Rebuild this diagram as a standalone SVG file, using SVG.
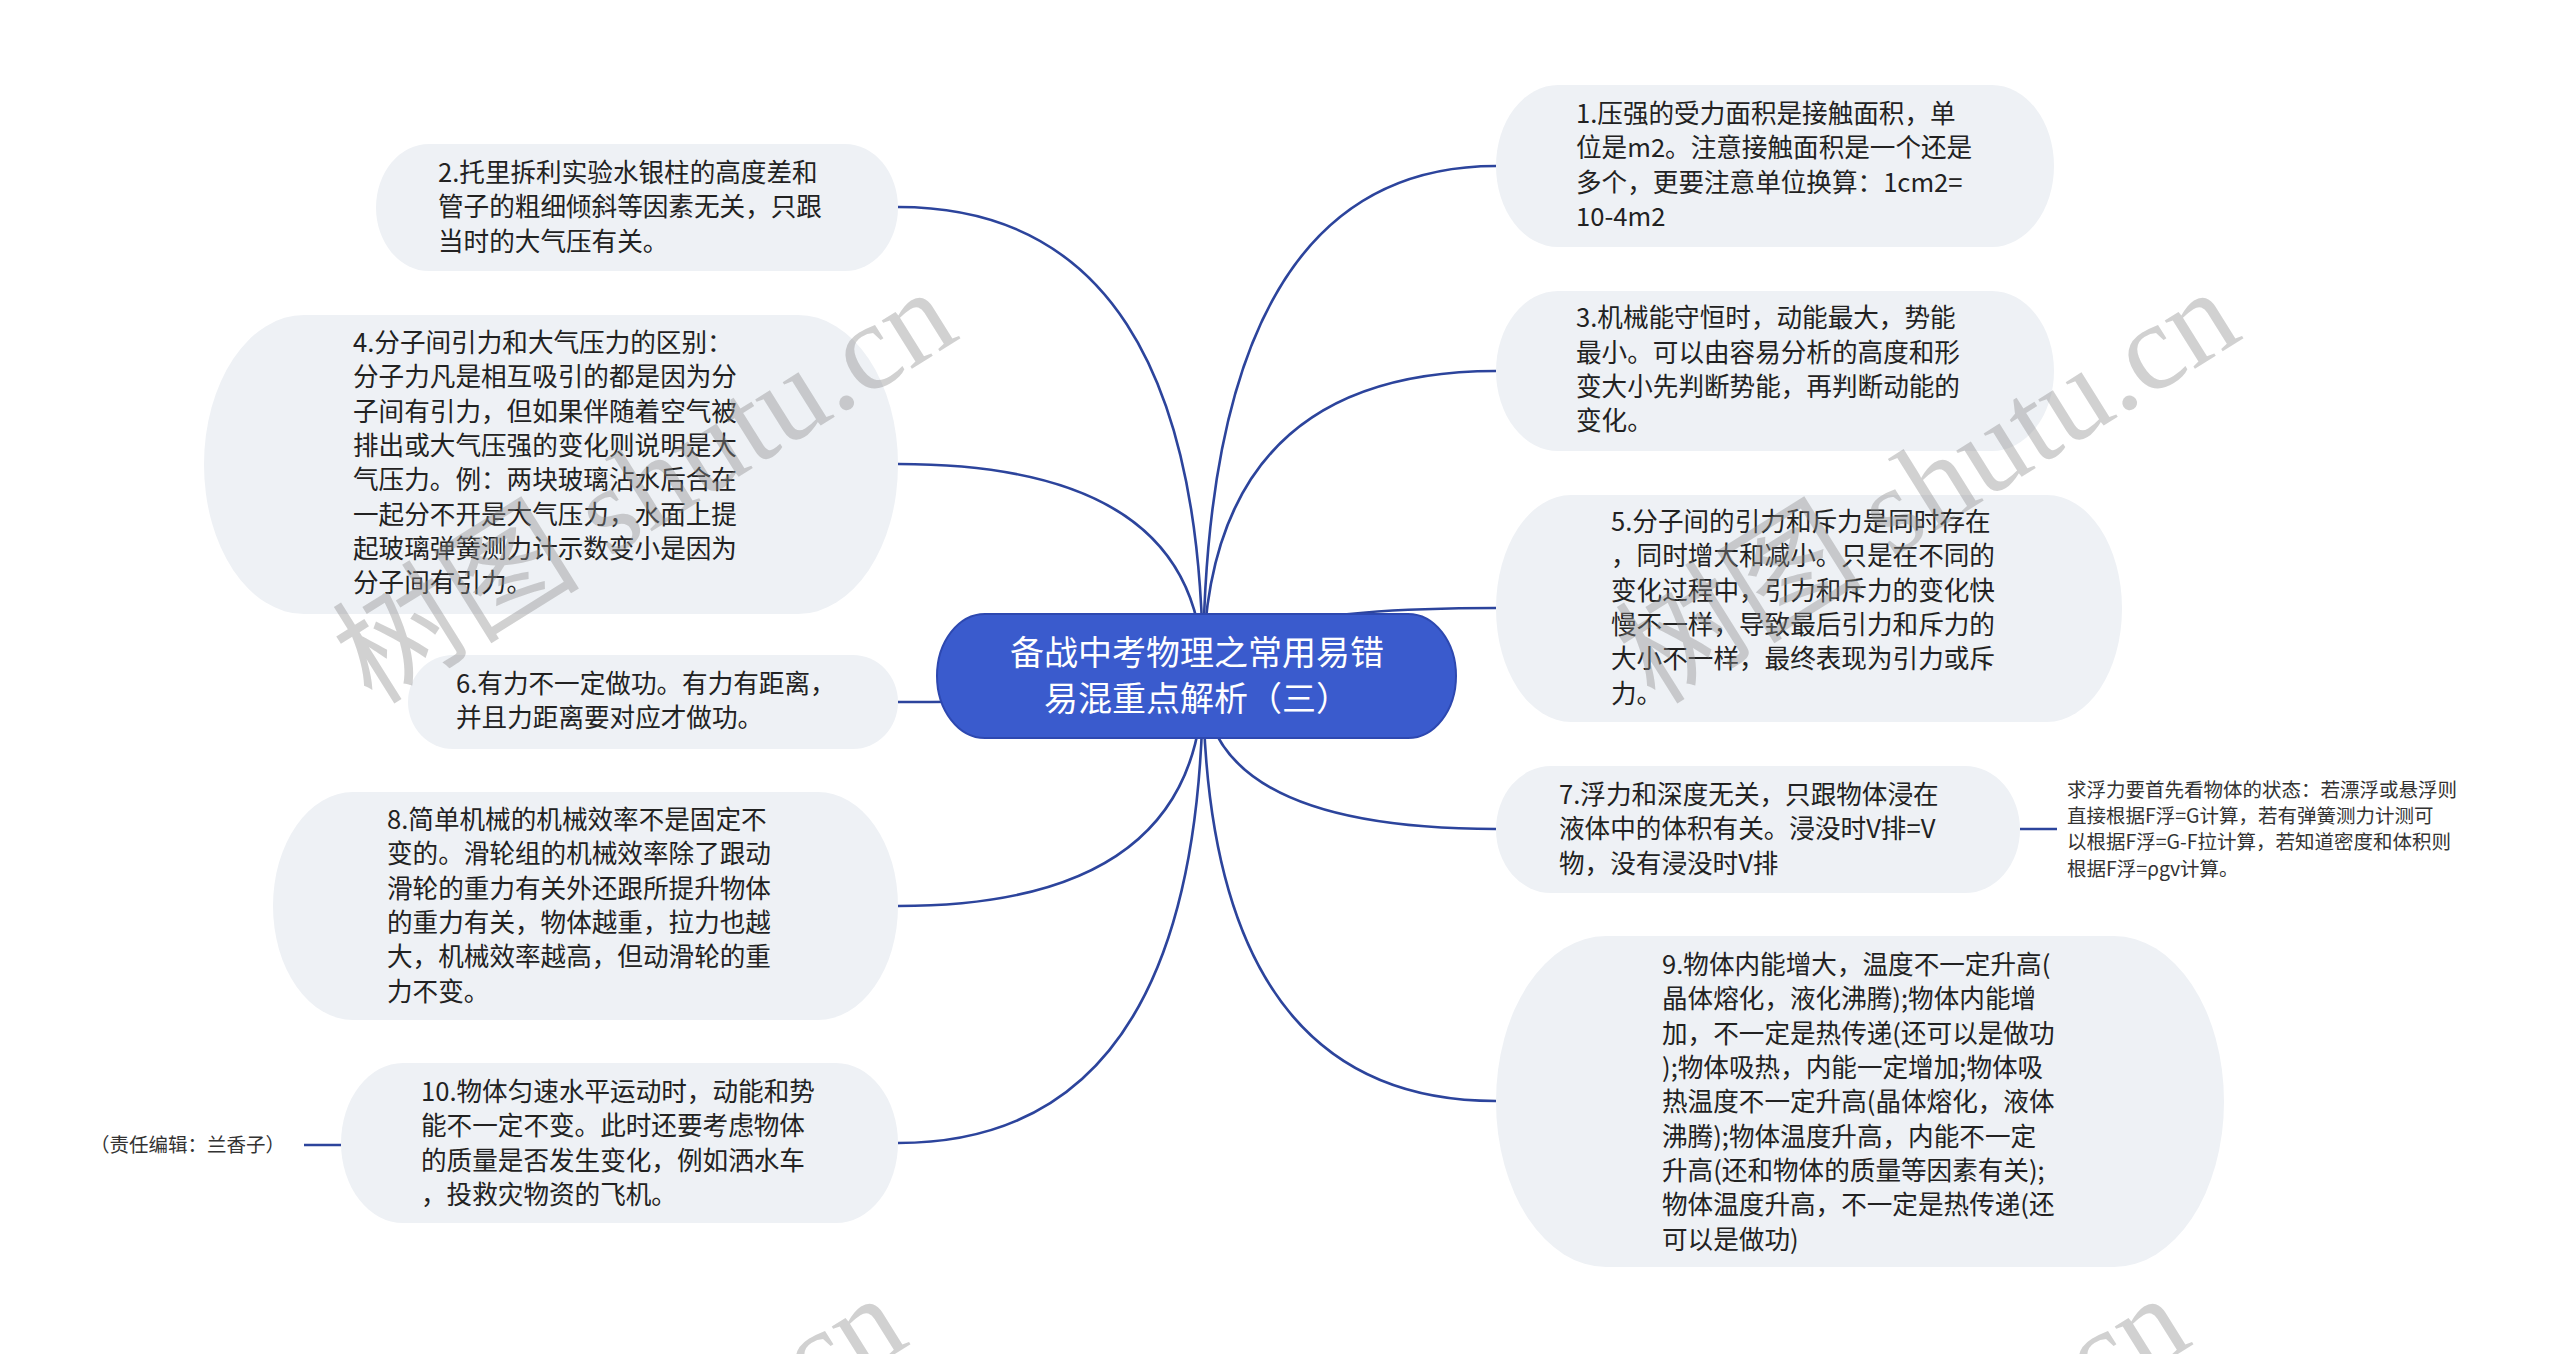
<svg xmlns="http://www.w3.org/2000/svg" width="2560" height="1354" viewBox="0 0 2560 1354">
<style>
.bg{fill:#ffffff}
.node rect{fill:#eef1f5}
.t{font-family:"Noto Sans CJK SC","Noto Sans",sans-serif;font-size:25.6px;fill:#222222}
.root rect{fill:#3a5bcd;stroke:#2d48b0;stroke-width:2}
.rt{font-family:"Noto Sans CJK SC","Noto Sans",sans-serif;font-size:34px;fill:#ffffff;text-anchor:middle}
.small{font-family:"Noto Sans CJK SC","Noto Sans",sans-serif;font-size:19.5px;fill:#333333}
.conn path,.conn line{fill:none;stroke:#2c449c;stroke-width:2.6}
.wm{font-family:"Liberation Serif","Noto Sans CJK SC",serif;font-size:124px;fill:#8c8c8c;fill-opacity:0.4}
</style>
<rect class="bg" x="0" y="0" width="2560" height="1354"/>
<g id="connectors" class="conn">
<path d="M1203,676 Q1203,166 1496,166"/>
<path d="M1203,676 Q1203,371 1496,371"/>
<path d="M1203,676 Q1203,608 1496,608"/>
<path d="M1203,676 Q1203,829 1496,829"/>
<path d="M1203,676 Q1203,1101 1496,1101"/>
<path d="M1203,676 Q1203,207 898,207"/>
<path d="M1203,676 Q1203,464 898,464"/>
<path d="M1203,676 Q1203,702 898,702"/>
<path d="M1203,676 Q1203,906 898,906"/>
<path d="M1203,676 Q1203,1143 898,1143"/>
<line x1="2020" y1="829" x2="2057" y2="829"/>
<line x1="304" y1="1145" x2="341" y2="1145"/>
</g>
<g id="root" class="root">
<rect x="937" y="614" width="519" height="124" rx="48" ry="62"/>
<text class="rt"><tspan x="1197" y="665">备战中考物理之常用易错</tspan><tspan x="1197" y="711">易混重点解析（三）</tspan></text>
</g>
<g id="n1" class="node">
<rect x="1496" y="85" width="558" height="162" rx="62" ry="81"/>
<text class="t"><tspan x="1576" y="123">1.压强的受力面积是接触面积，单</tspan><tspan x="1576" y="157">位是m2。注意接触面积是一个还是</tspan><tspan x="1576" y="192">多个，更要注意单位换算：1cm2=</tspan><tspan x="1576" y="226">10-4m2</tspan></text>
</g>
<g id="n2" class="node">
<rect x="376" y="144" width="522" height="127" rx="53" ry="63.5"/>
<text class="t"><tspan x="438" y="182">2.托里拆利实验水银柱的高度差和</tspan><tspan x="438" y="216">管子的粗细倾斜等因素无关，只跟</tspan><tspan x="438" y="251">当时的大气压有关。</tspan></text>
</g>
<g id="n3" class="node">
<rect x="1496" y="291" width="558" height="160" rx="62" ry="80"/>
<text class="t"><tspan x="1576" y="327">3.机械能守恒时，动能最大，势能</tspan><tspan x="1576" y="362">最小。可以由容易分析的高度和形</tspan><tspan x="1576" y="396">变大小先判断势能，再判断动能的</tspan><tspan x="1576" y="430">变化。</tspan></text>
</g>
<g id="n4" class="node">
<rect x="204" y="315" width="694" height="299" rx="100" ry="149.5"/>
<text class="t"><tspan x="353" y="352">4.分子间引力和大气压力的区别：</tspan><tspan x="353" y="386">分子力凡是相互吸引的都是因为分</tspan><tspan x="353" y="421">子间有引力，但如果伴随着空气被</tspan><tspan x="353" y="455">排出或大气压强的变化则说明是大</tspan><tspan x="353" y="489">气压力。例：两块玻璃沾水后合在</tspan><tspan x="353" y="524">一起分不开是大气压力，水面上提</tspan><tspan x="353" y="558">起玻璃弹簧测力计示数变小是因为</tspan><tspan x="353" y="592">分子间有引力。</tspan></text>
</g>
<g id="n5" class="node">
<rect x="1496" y="495" width="626" height="227" rx="75" ry="113.5"/>
<text class="t"><tspan x="1611" y="531">5.分子间的引力和斥力是同时存在</tspan><tspan x="1611" y="565">，同时增大和减小。只是在不同的</tspan><tspan x="1611" y="600">变化过程中，引力和斥力的变化快</tspan><tspan x="1611" y="634">慢不一样，导致最后引力和斥力的</tspan><tspan x="1611" y="668">大小不一样，最终表现为引力或斥</tspan><tspan x="1611" y="703">力。</tspan></text>
</g>
<g id="n6" class="node">
<rect x="408" y="655" width="490" height="94" rx="45" ry="47"/>
<text class="t"><tspan x="456" y="693">6.有力不一定做功。有力有距离，</tspan><tspan x="456" y="727">并且力距离要对应才做功。</tspan></text>
</g>
<g id="n7" class="node">
<rect x="1496" y="766" width="524" height="127" rx="55" ry="63.5"/>
<text class="t"><tspan x="1559" y="804">7.浮力和深度无关，只跟物体浸在</tspan><tspan x="1559" y="838">液体中的体积有关。浸没时V排=V</tspan><tspan x="1559" y="873">物，没有浸没时V排</tspan></text>
</g>
<g id="n7a" class="note">
<text class="small"><tspan x="2067" y="797">求浮力要首先看物体的状态：若漂浮或悬浮则</tspan><tspan x="2067" y="823">直接根据F浮=G计算，若有弹簧测力计测可</tspan><tspan x="2067" y="849">以根据F浮=G-F拉计算，若知道密度和体积则</tspan><tspan x="2067" y="876">根据F浮=ρgv计算。</tspan></text>
</g>
<g id="n8" class="node">
<rect x="273" y="792" width="625" height="228" rx="80" ry="114"/>
<text class="t"><tspan x="387" y="829">8.简单机械的机械效率不是固定不</tspan><tspan x="387" y="863">变的。滑轮组的机械效率除了跟动</tspan><tspan x="387" y="898">滑轮的重力有关外还跟所提升物体</tspan><tspan x="387" y="932">的重力有关，物体越重，拉力也越</tspan><tspan x="387" y="966">大，机械效率越高，但动滑轮的重</tspan><tspan x="387" y="1001">力不变。</tspan></text>
</g>
<g id="n9" class="node">
<rect x="1496" y="936" width="728" height="331" rx="110" ry="165.5"/>
<text class="t"><tspan x="1662" y="974">9.物体内能增大，温度不一定升高(</tspan><tspan x="1662" y="1008">晶体熔化，液化沸腾);物体内能增</tspan><tspan x="1662" y="1043">加，不一定是热传递(还可以是做功</tspan><tspan x="1662" y="1077">);物体吸热，内能一定增加;物体吸</tspan><tspan x="1662" y="1111">热温度不一定升高(晶体熔化，液体</tspan><tspan x="1662" y="1146">沸腾);物体温度升高，内能不一定</tspan><tspan x="1662" y="1180">升高(还和物体的质量等因素有关);</tspan><tspan x="1662" y="1214">物体温度升高，不一定是热传递(还</tspan><tspan x="1662" y="1249">可以是做功)</tspan></text>
</g>
<g id="n10" class="node">
<rect x="341" y="1063" width="557" height="160" rx="62" ry="80"/>
<text class="t"><tspan x="421" y="1101">10.物体匀速水平运动时，动能和势</tspan><tspan x="421" y="1135">能不一定不变。此时还要考虑物体</tspan><tspan x="421" y="1170">的质量是否发生变化，例如洒水车</tspan><tspan x="421" y="1204">，投救灾物资的飞机。</tspan></text>
</g>
<g id="n10a" class="note">
<text class="small" x="90" y="1152">（责任编辑：兰香子）</text>
</g>
<g id="watermarks">
<text class="wm" transform="translate(372,706) rotate(-32)">树图 shutu.cn</text>
<text class="wm" transform="translate(1655,706) rotate(-32)">树图 shutu.cn</text>
<text class="wm" transform="translate(322,1712) rotate(-32)">树图 shutu.cn</text>
<text class="wm" transform="translate(1605,1712) rotate(-32)">树图 shutu.cn</text>
</g>
</svg>
